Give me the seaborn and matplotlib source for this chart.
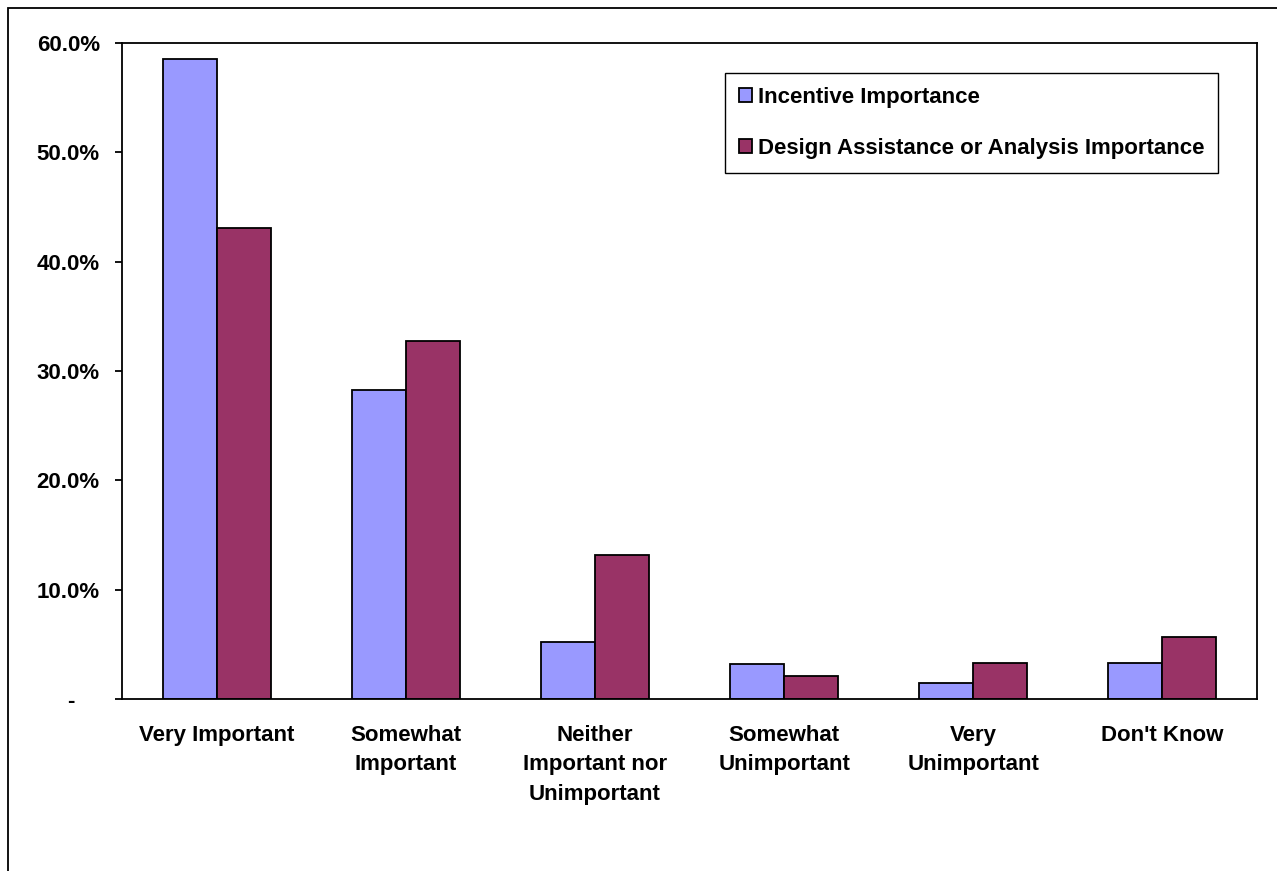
import pandas as pd
import numpy as np
import matplotlib
matplotlib.use('Agg')
import matplotlib.pyplot as plt
import matplotlib.patches as mpatches
from matplotlib.ticker import FuncFormatter
import seaborn as sns

categories = ['Very Important', 'Somewhat\nImportant', 'Neither\nImportant nor\nUnimportant',
              'Somewhat\nUnimportant', 'Very\nUnimportant', "Don't Know"]
incentive = [0.585, 0.283, 0.052, 0.032, 0.015, 0.033]
design = [0.431, 0.327, 0.132, 0.021, 0.033, 0.057]
series_names = ['Incentive Importance', 'Design Assistance or Analysis Importance']
colors = ['#9999FF', '#993366']

df = pd.DataFrame({
    'category': categories * 2,
    'series': [series_names[0]] * len(categories) + [series_names[1]] * len(categories),
    'value': incentive + design,
})

sns.set_style('white')
plt.rcParams['font.family'] = ['Liberation Sans', 'DejaVu Sans']
plt.rcParams['font.weight'] = 'bold'
plt.rcParams['text.color'] = 'black'
plt.rcParams['xtick.color'] = 'black'
plt.rcParams['ytick.color'] = 'black'

fig = plt.figure(figsize=(12.77, 8.71), dpi=100)
ax = fig.add_axes([122 / 1277, 1 - 699 / 871, (1257 - 122) / 1277, (699 - 43) / 871])

sns.barplot(data=df, x='category', y='value', hue='series', palette=colors,
            width=0.571, edgecolor='black', linewidth=1.3, saturation=1,
            ax=ax, legend=True)


def pct_fmt(v, p):
    # accounting style: zero shown as a dash
    if abs(v) < 1e-9:
        return '-    '
    return f'{v * 100:.1f}%'


ax.set_ylim(0, 0.6)
ax.set_yticks(np.arange(0, 0.61, 0.1))
ax.yaxis.set_major_formatter(FuncFormatter(pct_fmt))
ax.set_xlim(-0.5, len(categories) - 0.5)
ax.set_xlabel('')
ax.set_ylabel('')

for s in ax.spines.values():
    s.set_color('black')
    s.set_linewidth(1.3)

ax.tick_params(axis='y', which='major', left=True, length=5, width=1.3, color='black',
               pad=11, labelsize=16, labelcolor='black')
ax.tick_params(axis='x', bottom=False, pad=15, labelsize=16, labelcolor='black')
for lbl in ax.get_xticklabels():
    lbl.set_fontweight('bold')
    lbl.set_linespacing(1.53)
    lbl.set_verticalalignment('top')
for lbl in ax.get_yticklabels():
    lbl.set_fontweight('bold')

handles, labels = ax.get_legend_handles_labels()
leg = ax.legend(handles, labels, loc='upper left', bbox_to_anchor=(725 / 1277, 1 - 73 / 871),
                bbox_transform=fig.transFigure, frameon=True, fancybox=False, shadow=False,
                edgecolor='black', framealpha=1, prop={'weight': 'bold', 'size': 16},
                handlelength=0.6, handleheight=0.6, handletextpad=0.25, labelspacing=1.37,
                borderpad=0.62, borderaxespad=0)
leg.get_frame().set_linewidth(1.0)
for t in leg.get_texts():
    t.set_color('black')

# outer chart area border (cut off at right and bottom)
border = mpatches.Rectangle((8 / 1277, -0.1), 1.2, 1 - 8 / 871 + 0.1, transform=fig.transFigure,
                            fill=False, edgecolor='black', linewidth=1.3)
fig.patches.append(border)

fig.savefig('out.png', dpi=100)
